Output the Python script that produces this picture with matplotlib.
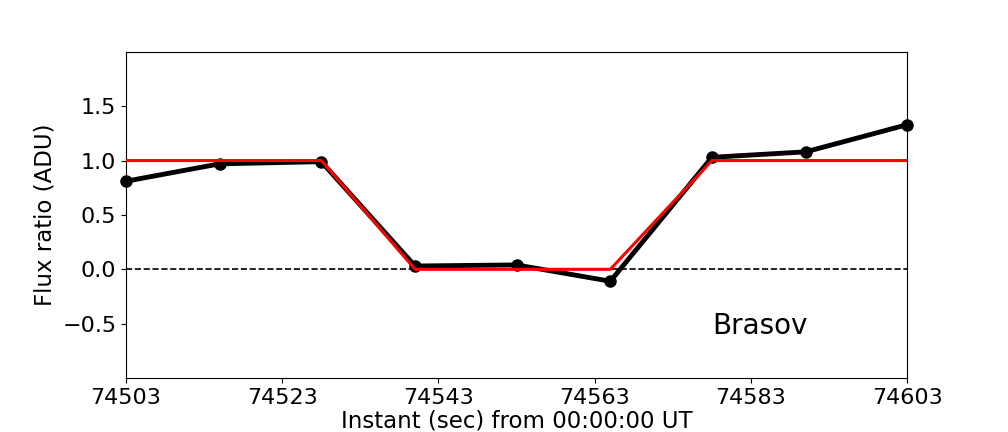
import matplotlib
matplotlib.use("Agg")
import matplotlib.pyplot as plt
import numpy as np

# observed flux ratio
times = [74503.0, 74515.0, 74528.0, 74540.0, 74553.0, 74565.0, 74578.0, 74590.0, 74603.0]
flux = [0.81, 0.97, 0.99, 0.03, 0.04, -0.11, 1.03, 1.08, 1.33]

# square-well occultation model
model_t = [74503.0, 74528.0, 74540.0, 74565.0, 74578.0, 74603.0]
model_f = [1.0, 1.0, 0.0, 0.0, 1.0, 1.0]

x_ticks = np.arange(74503, 74604, 20)
y_ticks = [-0.5, 0.0, 0.5, 1.0, 1.5]

fig, ax = plt.subplots(figsize=(10.08, 4.32), dpi=100)
fig.subplots_adjust(left=0.125, right=0.9, bottom=0.125, top=0.88)

ax.axhline(0, color="black", linestyle="--", linewidth=1.2)
ax.plot(times, flux, color="black", linewidth=3.5, marker="o", markersize=8, clip_on=False, zorder=3)
ax.plot(model_t, model_f, color="red", linewidth=2.2, zorder=4)

ax.set_xlim(74503, 74603)
ax.set_ylim(-1.0, 2.0)
ax.set_xticks(x_ticks)
ax.set_yticks(y_ticks)
ax.tick_params(labelsize=16)
ax.set_xlabel("Instant (sec) from 00:00:00 UT", fontsize=16.5, labelpad=1.5)
ax.set_ylabel("Flux ratio (ADU)", fontsize=16.5)
ax.text(0.75, 0.135, "Brasov", transform=ax.transAxes, fontsize=20)

plt.savefig("out.png", dpi=100)
